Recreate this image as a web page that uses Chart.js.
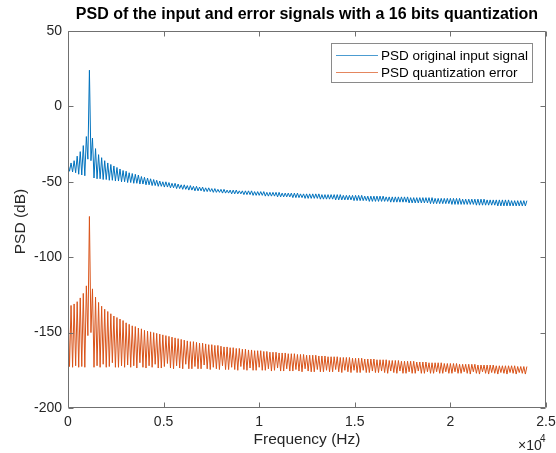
<!DOCTYPE html>
<html><head><meta charset="utf-8">
<script src="https://cdn.jsdelivr.net/npm/chart.js@4.4.1/dist/chart.umd.min.js"></script>
<style>html,body{margin:0;padding:0;background:#fff;}#wrap{width:556px;height:453px;}</style>
</head><body><div id="wrap"><canvas id="c" width="556" height="453"></canvas></div>
<script>
const chartTitle = "PSD of the input and error signals with a 16 bits quantization";
const xAxisLabel = "Frequency (Hz)";
const yAxisLabel = "PSD (dB)";
const seriesNames = ["PSD original input signal", "PSD quantization error"];
const seriesColors = ["#0072BD", "#D95319"];
const xTickValues = [0, 5000, 10000, 15000, 20000, 25000];
const xTickLabels = ["0", "0.5", "1", "1.5", "2", "2.5"];
const yTickValues = [-200, -150, -100, -50, 0, 50];
const binSpacingHz = 80;

// input signal PSD: local maxima (every 2 bins) and local minima (between them), dB
const inputPeaks = [
 -38,-37.5,-36,-33,-30,-26,-20,24,-21,-28,-32,-34,-36,-37.5,-38.5,-39.5,-40.5,-41.5,-42.5,-43,
 -44,-44.5,-45,-45.5,-46.5,-47,-47.5,-48,-48.5,-49,-49.5,-50,-50,-50.5,-51,-51,-51.5,-52,-52,-52.5,
 -52.5,-53,-53,-53.5,-53.5,-54,-54,-54.5,-54.5,-55,-55,-55,-55.5,-55.5,-55.5,-55.5,-56,-56,-56,-56,
 -56,-56.5,-56.5,-56.5,-56.5,-57,-57,-57,-57,-57,-57.5,-57.5,-57.5,-57.5,-57.5,-57.5,-58,-58,-58,-58,
 -58,-58,-58,-58.5,-58.5,-58.5,-58.5,-58.5,-58.5,-58.5,-59,-59,-59,-59,-59,-59,-59,-59.5,-59.5,-59.5,
 -59.5,-59.5,-59.5,-59.5,-60,-60,-60,-60,-60,-60,-60,-60,-60.5,-60.5,-60.5,-60.5,-60.5,-60.5,-60.5,-60.5,
 -61,-61,-61,-61,-61,-61,-61,-61,-61,-61.5,-61.5,-61.5,-61.5,-61.5,-61.5,-61.5,-61.5,-62,-62,-62,
 -62,-62,-62,-62,-62,-62.5,-62.5,-62.5,-62.5,-62.5,-62.5
];
const inputNulls = [
 -43,-43.5,-44,-45,-45.5,-46,-35,-36,-47.5,-48,-48,-48.5,-48.5,-49,-49,-49.5,-49.5,-50,-50,-50.5,
 -50.5,-51,-51,-51.5,-51.5,-52,-52,-52.5,-52.5,-53,-53,-53.5,-53.5,-54,-54,-54.5,-54.5,-55,-55,-55.5,
 -55.5,-56,-56,-56,-56.5,-56.5,-56.5,-57,-57,-57,-57.5,-57.5,-57.5,-58,-58,-58,-58,-58.5,-58.5,-58.5,
 -59,-59,-59,-59,-59.5,-59.5,-59.5,-59.5,-60,-60,-60,-60,-60,-60.5,-60.5,-60.5,-60.5,-61,-61,-61,
 -61,-61,-61.5,-61.5,-61.5,-61.5,-61.5,-62,-62,-62,-62,-62,-62,-62.5,-62.5,-62.5,-62.5,-62.5,-63,-63,
 -63,-63,-63,-63,-63,-63.5,-63.5,-63.5,-63.5,-63.5,-63.5,-64,-64,-64,-64,-64,-64,-64,-64.5,-64.5,
 -64.5,-64.5,-64.5,-64.5,-64.5,-65,-65,-65,-65,-65,-65,-65,-65,-65.5,-65.5,-65.5,-65.5,-65.5,-65.5,-65.5,
 -66,-66,-66,-66,-66,-66,-66,-66,-66,-66
];
// quantization error PSD, dB
const errorPeaks = [
 -132,-132,-131,-129.5,-127,-124,-119,-73,-121,-126.5,-130,-132.5,-134.5,-136,-137.5,-139,-140,-141,-142,-143.5,
 -144.5,-145.5,-146,-147,-147.5,-148.5,-149,-149.5,-150,-150.5,-151,-151.5,-152,-152.5,-153,-153.5,-154,-154.5,-155,-155.5,
 -156,-156,-156.5,-157,-157,-157.5,-158,-158,-158.5,-158.5,-159,-159.5,-159.5,-160,-160,-160.5,-160.5,-161,-161,-161.5,
 -161.5,-162,-162,-162,-162.5,-162.5,-163,-163,-163,-163.5,-163.5,-163.5,-164,-164,-164,-164.5,-164.5,-164.5,-165,-165,
 -165,-165,-165.5,-165.5,-165.5,-166,-166,-166,-166,-166.5,-166.5,-166.5,-166.5,-167,-167,-167,-167,-167.5,-167.5,-167.5,
 -167.5,-168,-168,-168,-168,-168.5,-168.5,-168.5,-168.5,-169,-169,-169,-169,-169,-169.5,-169.5,-169.5,-169.5,-170,-170,
 -170,-170,-170,-170.5,-170.5,-170.5,-170.5,-170.5,-171,-171,-171,-171,-171,-171,-171.5,-171.5,-171.5,-171.5,-171.5,-171.5,
 -172,-172,-172,-172,-172,-172,-172,-172.5,-172.5,-172.5,-172.5
];
const errorNulls = [
 -172.5,-173,-172,-173,-172.5,-173,-152,-150,-173,-172,-173,-171,-173,-172.5,-170,-173,-173,-172,-173,-171.5,
 -173,-172,-173.5,-170,-173,-173.5,-172,-173,-171,-173.5,-173.5,-172.5,-170.5,-173.5,-174,-172,-173.5,-174,-171,-174,
 -174,-172.5,-174,-174,-171.5,-174,-174.5,-173,-174,-174.5,-172,-174.5,-174.5,-173,-174.5,-175,-172.5,-174.5,-175,-173.5,
 -175,-175,-173,-175,-175,-174,-175.5,-175,-173.5,-175.5,-175.5,-174,-175.5,-175.5,-174.5,-175.5,-176,-174,-175.5,-176,
 -176,-174.5,-176,-176,-175,-176,-176,-174.5,-176,-176.5,-175,-176,-176.5,-175,-176.5,-176.5,-175,-176.5,-176.5,-175.5,
 -176.5,-176.5,-175.5,-176.5,-177,-175.5,-176.5,-177,-175.5,-177,-177,-176,-177,-177,-175.5,-177,-177,-176,-177,-177,
 -176,-177,-177,-176,-177,-177,-176,-177,-177,-176,-177,-177.5,-176,-177,-177.5,-176,-177,-177.5,-176.5,-177,
 -177.5,-176.5,-177,-177.5,-176.5,-177,-177.5,-176.5,-177,-177.5
];

function buildPoints(peaks, nulls) {
  const pts = [];
  for (let k = 0; k < peaks.length; k++) {
    pts.push({ x: 2 * k * binSpacingHz, y: peaks[k] });
    if (k < nulls.length) pts.push({ x: (2 * k + 1) * binSpacingHz, y: nulls[k] });
  }
  return pts;
}

const FONT = "'Liberation Sans', Arial, Helvetica, sans-serif";
const TXT = "#262626";
const AXC = "#707070";

const decor = {
  id: 'decor',
  afterDraw(chart) {
    const ctx = chart.ctx;
    const a = chart.chartArea;
    const xs = chart.scales.x, ys = chart.scales.y;
    ctx.save();
    ctx.strokeStyle = AXC; ctx.lineWidth = 1;
    const L = Math.round(a.left) + 0.5, R = Math.round(a.right) - 0.5;
    const T = Math.round(a.top) + 0.5, B = Math.round(a.bottom) - 0.5;
    ctx.beginPath();
    ctx.moveTo(L, T); ctx.lineTo(R, T); ctx.lineTo(R, B); ctx.lineTo(L, B); ctx.closePath();
    ctx.stroke();
    ctx.beginPath();
    xTickValues.forEach(v => {
      const px = Math.round(xs.getPixelForValue(v)) + 0.5;
      ctx.moveTo(px, B); ctx.lineTo(px, B - 5);
      ctx.moveTo(px, T); ctx.lineTo(px, T + 5);
    });
    yTickValues.forEach(v => {
      const py = Math.round(ys.getPixelForValue(v)) + 0.5;
      ctx.moveTo(L, py); ctx.lineTo(L + 5, py);
      ctx.moveTo(R, py); ctx.lineTo(R - 5, py);
    });
    ctx.stroke();
    ctx.fillStyle = "#000";
    ctx.font = "bold 16px " + FONT;
    ctx.textAlign = "center"; ctx.textBaseline = "middle";
    ctx.fillText(chartTitle, (a.left + a.right) / 2, 15);
    ctx.fillStyle = TXT;
    ctx.font = "15.5px " + FONT;
    ctx.fillText(xAxisLabel, (a.left + a.right) / 2, 440);
    ctx.save();
    ctx.translate(21, (a.top + a.bottom) / 2 + 2);
    ctx.rotate(-Math.PI / 2);
    ctx.fillText(yAxisLabel, 0, 0);
    ctx.restore();
    ctx.font = "14px " + FONT;
    ctx.textAlign = "left";
    ctx.fillText("\u00d710", 518, 446);
    ctx.font = "10px " + FONT;
    ctx.fillText("4", 540, 439);
    const bx = 331.5, by = 43.5, bw = 201, bh = 39;
    ctx.fillStyle = "#fff";
    ctx.fillRect(bx, by, bw, bh);
    ctx.strokeStyle = "#8a8a8a";
    ctx.strokeRect(bx, by, bw, bh);
    ctx.font = "13.5px " + FONT;
    ctx.textBaseline = "middle";
    const rows = [55, 72];
    seriesNames.forEach((n, i) => {
      ctx.strokeStyle = seriesColors[i];
      ctx.globalAlpha = 0.7;
      ctx.beginPath();
      ctx.moveTo(336, rows[i] + 0.5); ctx.lineTo(378, rows[i] + 0.5);
      ctx.stroke();
      ctx.globalAlpha = 1;
      ctx.fillStyle = "#000";
      ctx.fillText(n, 381, rows[i] + 1);
    });
    ctx.restore();
  }
};

new Chart(document.getElementById('c'), {
  type: 'line',
  data: {
    datasets: [
      { label: seriesNames[0], data: buildPoints(inputPeaks, inputNulls), borderColor: seriesColors[0], borderWidth: 1, pointRadius: 0, tension: 0, fill: false },
      { label: seriesNames[1], data: buildPoints(errorPeaks, errorNulls), borderColor: seriesColors[1], borderWidth: 1, pointRadius: 0, tension: 0, fill: false }
    ]
  },
  options: {
    responsive: false,
    animation: false,
    parsing: false,
    normalized: true,
    layout: { padding: { top: 31, right: 10, left: 0, bottom: 0 } },
    plugins: { legend: { display: false }, title: { display: false }, tooltip: { enabled: false } },
    scales: {
      x: {
        type: 'linear', min: 0, max: 25000,
        grid: { display: false, drawTicks: false },
        border: { display: false },
        afterBuildTicks: s => { s.ticks = xTickValues.map(v => ({ value: v })); },
        afterFit: s => { s.height = 45; s.paddingLeft = 0; s.paddingRight = 0; },
        ticks: { color: TXT, font: { family: FONT, size: 14 }, padding: 6, maxRotation: 0,
          callback: (v) => { const i = xTickValues.indexOf(v); return i >= 0 ? xTickLabels[i] : ''; } }
      },
      y: {
        type: 'linear', min: -200, max: 50,
        grid: { display: false, drawTicks: false },
        border: { display: false },
        afterBuildTicks: s => { s.ticks = yTickValues.map(v => ({ value: v })); },
        afterFit: s => { s.width = 68; s.paddingTop = 0; s.paddingBottom = 0; },
        ticks: { color: TXT, font: { family: FONT, size: 14 }, padding: 6 }
      }
    }
  },
  plugins: [decor]
});
</script>
</body></html>
